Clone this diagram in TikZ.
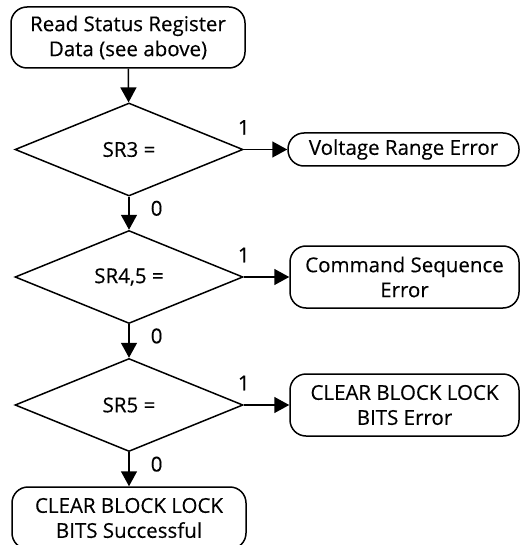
\documentclass[tikz,border=0pt]{standalone}
\usepackage{fontspec}
\setmainfont{Open Sans}[FakeBold=0.3]
\usetikzlibrary{shapes.geometric,arrows.meta}

\tikzset{
  flowbox/.style={draw, rounded corners=16pt, line width=1.5pt, align=center, inner sep=0pt},
  decision/.style={draw, diamond, aspect=2.45, minimum width=228pt, minimum height=93pt, inner sep=0pt, line width=1.5pt},
  flowarrow/.style={line width=1.5pt, -{Triangle[length=15pt,width=16pt]}},
  bitlabel/.style={inner sep=0pt}
}

\begin{document}
\begin{tikzpicture}[x=1pt, y=-1pt, font=\fontsize{20.5}{25}\selectfont]
			%%%%% START %%%%%
			\useasboundingbox (0,0) rectangle (520,545);
			
			\node[flowbox, minimum width=234pt, minimum height=61pt] (read) at (128,37.5) {Read Status Register\\Data (see above)};
			
			\node[decision] (sr3) at (129,149.5) {SR3 =};
			\node[decision] (sr45) at (129,277) {SR4,5 =};
			\node[decision] (sr5) at (129,405) {SR5 =};
			
			\node[flowbox, minimum width=231pt, minimum height=33pt] (volt) at (403.5,149.5) {Voltage Range Error};
			\node[flowbox, minimum width=229pt, minimum height=62pt] (cmdseq) at (404.5,277) {Command Sequence\\Error};
			\node[flowbox, minimum width=229pt, minimum height=62pt] (clrerr) at (404.5,405) {CLEAR BLOCK LOCK\\BITS Error};
			\node[flowbox, minimum width=234pt, minimum height=62pt] (clrok) at (129,518) {CLEAR BLOCK LOCK\\BITS Successful};
			
			\draw[flowarrow] (read) -- (sr3);
			\draw[flowarrow] (sr3) -- node[bitlabel, pos=0.35, right=21pt] {0} (sr45);
			\draw[flowarrow] (sr45) -- node[bitlabel, pos=0.35, right=21pt] {0} (sr5);
			\draw[flowarrow] (sr5) -- node[bitlabel, pos=0.35, right=21pt] {0} (clrok);
			
			\draw[flowarrow] (sr3) -- node[bitlabel, pos=0, above=14pt] {1} (volt);
			\draw[flowarrow] (sr45) -- node[bitlabel, pos=0, above=14pt] {1} (cmdseq);
			\draw[flowarrow] (sr5) -- node[bitlabel, pos=0, above=14pt] {1} (clrerr);
			%%%%% END %%%%%
\end{tikzpicture}
\end{document}
